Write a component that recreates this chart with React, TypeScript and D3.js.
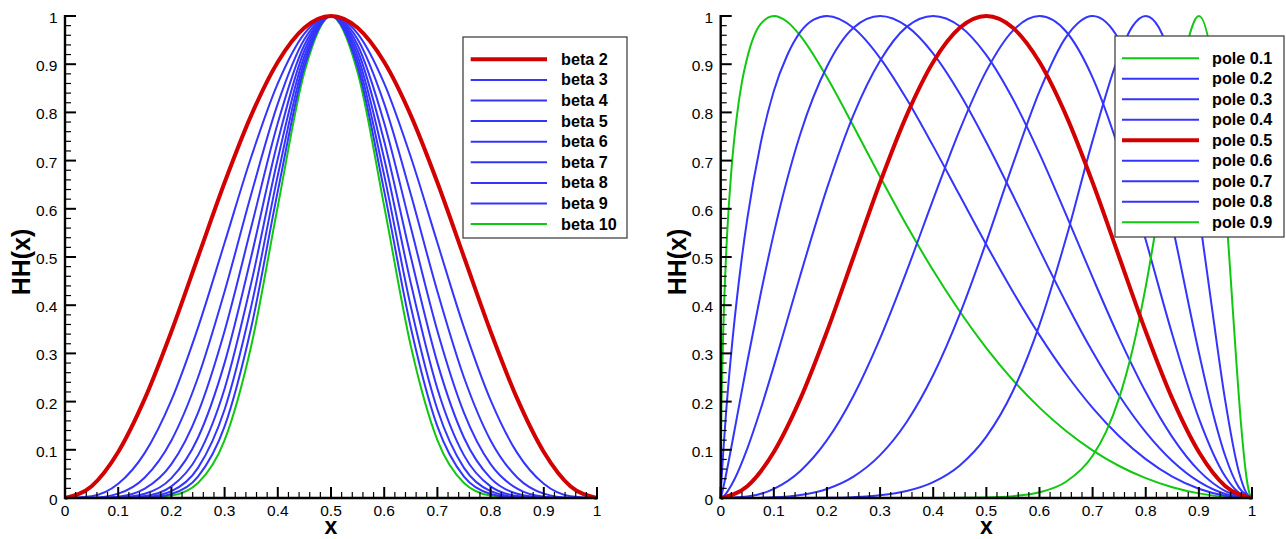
import React from "react";
import * as d3 from "d3";

// ---------------- data ----------------
const tickLabels = ["0", "0.1", "0.2", "0.3", "0.4", "0.5", "0.6", "0.7", "0.8", "0.9", "1"];

const betaNames = ["beta 2", "beta 3", "beta 4", "beta 5", "beta 6", "beta 7", "beta 8", "beta 9", "beta 10"];
const betaX = [0, 0.05, 0.1, 0.15, 0.2, 0.25, 0.3, 0.35, 0.4, 0.45, 0.5, 0.55, 0.6, 0.65, 0.7, 0.75, 0.8, 0.85, 0.9, 0.95, 1];
const beta2 = [0, 0.0245, 0.0955, 0.2061, 0.3455, 0.5, 0.6545, 0.7939, 0.9045, 0.9755, 1, 0.9755, 0.9045, 0.7939, 0.6545, 0.5, 0.3455, 0.2061, 0.0955, 0.0245, 0];
const beta3 = [0, 0.0038, 0.0295, 0.0936, 0.2031, 0.3536, 0.5295, 0.7074, 0.8602, 0.9635, 1, 0.9635, 0.8602, 0.7074, 0.5295, 0.3536, 0.2031, 0.0936, 0.0295, 0.0038, 0];
const beta4 = [0, 0.0006, 0.0091, 0.0425, 0.1194, 0.25, 0.4284, 0.6303, 0.8181, 0.9517, 1, 0.9517, 0.8181, 0.6303, 0.4284, 0.25, 0.1194, 0.0425, 0.0091, 0.0006, 0];
const beta5 = [0, 0.0001, 0.0028, 0.0193, 0.0702, 0.1768, 0.3466, 0.5616, 0.7781, 0.9399, 1, 0.9399, 0.7781, 0.5616, 0.3466, 0.1768, 0.0702, 0.0193, 0.0028, 0.0001, 0];
const beta6 = [0, 0, 0.0009, 0.0088, 0.0412, 0.125, 0.2804, 0.5004, 0.74, 0.9284, 1, 0.9284, 0.74, 0.5004, 0.2804, 0.125, 0.0412, 0.0088, 0.0009, 0, 0];
const beta7 = [0, 0, 0.0003, 0.004, 0.0242, 0.0884, 0.2268, 0.4458, 0.7038, 0.9169, 1, 0.9169, 0.7038, 0.4458, 0.2268, 0.0884, 0.0242, 0.004, 0.0003, 0, 0];
const beta8 = [0, 0, 0.0001, 0.0018, 0.0142, 0.0625, 0.1835, 0.3972, 0.6693, 0.9056, 1, 0.9056, 0.6693, 0.3972, 0.1835, 0.0625, 0.0142, 0.0018, 0.0001, 0, 0];
const beta9 = [0, 0, 0, 0.0008, 0.0084, 0.0442, 0.1485, 0.3539, 0.6366, 0.8945, 1, 0.8945, 0.6366, 0.3539, 0.1485, 0.0442, 0.0084, 0.0008, 0, 0, 0];
const beta10 = [0, 0, 0, 0.0004, 0.0049, 0.0313, 0.1201, 0.3154, 0.6054, 0.8835, 1, 0.8835, 0.6054, 0.3154, 0.1201, 0.0313, 0.0049, 0.0004, 0, 0, 0];

const poleNames = ["pole 0.1", "pole 0.2", "pole 0.3", "pole 0.4", "pole 0.5", "pole 0.6", "pole 0.7", "pole 0.8", "pole 0.9"];
const pole01X = [0, 0.001, 0.0025, 0.005, 0.01, 0.02, 0.03, 0.04, 0.05, 0.075, 0.1, 0.125, 0.15, 0.2, 0.25, 0.3, 0.35, 0.4, 0.45, 0.5, 0.55, 0.6, 0.65, 0.7, 0.75, 0.8, 0.85, 0.9, 0.95, 1];
const pole01Y = [0, 0.1465, 0.2447, 0.3542, 0.5, 0.6782, 0.7888, 0.8633, 0.9136, 0.9831, 1, 0.9881, 0.959, 0.8729, 0.7711, 0.6665, 0.5657, 0.4719, 0.3869, 0.3111, 0.2447, 0.1875, 0.139, 0.0989, 0.0664, 0.0411, 0.0223, 0.0096, 0.0023, 0];
const pole02X = [0, 0.001, 0.0025, 0.005, 0.01, 0.02, 0.03, 0.04, 0.05, 0.075, 0.1, 0.125, 0.15, 0.175, 0.2, 0.25, 0.3, 0.35, 0.4, 0.45, 0.5, 0.55, 0.6, 0.65, 0.7, 0.75, 0.8, 0.85, 0.9, 0.95, 1];
const pole02Y = [0, 0.0255, 0.0556, 0.0994, 0.1755, 0.3028, 0.409, 0.5, 0.5789, 0.7346, 0.8445, 0.918, 0.9669, 0.9923, 1, 0.9751, 0.9128, 0.8277, 0.73, 0.6275, 0.5255, 0.428, 0.338, 0.2573, 0.1871, 0.1282, 0.0806, 0.0444, 0.0193, 0.0047, 0];
const pole03X = [0, 0.001, 0.005, 0.01, 0.02, 0.03, 0.05, 0.075, 0.1, 0.125, 0.15, 0.2, 0.25, 0.3, 0.35, 0.4, 0.45, 0.5, 0.55, 0.6, 0.65, 0.7, 0.75, 0.8, 0.85, 0.9, 0.95, 1];
const pole03Y = [0, 0.0035, 0.022, 0.0483, 0.1052, 0.1642, 0.2821, 0.4221, 0.549, 0.6606, 0.7558, 0.8953, 0.9757, 1, 0.9789, 0.9221, 0.8389, 0.7382, 0.6281, 0.5152, 0.4052, 0.3032, 0.2128, 0.1367, 0.0767, 0.0338, 0.0083, 0];
const pole04X = [0, 0.005, 0.01, 0.025, 0.05, 0.075, 0.1, 0.125, 0.15, 0.2, 0.25, 0.3, 0.35, 0.4, 0.45, 0.5, 0.55, 0.6, 0.65, 0.7, 0.75, 0.8, 0.85, 0.9, 0.95, 1];
const pole04Y = [0, 0.0033, 0.0093, 0.0367, 0.1025, 0.1836, 0.2736, 0.3678, 0.4626, 0.6424, 0.7949, 0.9071, 0.9774, 1, 0.9787, 0.9189, 0.8278, 0.7144, 0.5878, 0.4576, 0.3323, 0.2198, 0.1264, 0.0568, 0.0142, 0];
const pole05X = [0, 0.05, 0.1, 0.15, 0.2, 0.25, 0.3, 0.35, 0.4, 0.45, 0.5, 0.55, 0.6, 0.65, 0.7, 0.75, 0.8, 0.85, 0.9, 0.95, 1];
const pole05Y = [0, 0.0245, 0.0955, 0.2061, 0.3455, 0.5, 0.6545, 0.7939, 0.9045, 0.9755, 1, 0.9755, 0.9045, 0.7939, 0.6545, 0.5, 0.3455, 0.2061, 0.0955, 0.0245, 0];
const pole06X = [0, 0.05, 0.1, 0.15, 0.2, 0.25, 0.3, 0.35, 0.4, 0.45, 0.5, 0.55, 0.6, 0.65, 0.7, 0.75, 0.8, 0.85, 0.9, 0.95, 0.975, 1];
const pole06Y = [0, 0.0029, 0.019, 0.0562, 0.12, 0.2123, 0.3313, 0.4706, 0.6195, 0.7637, 0.8861, 0.9697, 1, 0.9679, 0.8723, 0.7219, 0.5352, 0.3392, 0.1652, 0.044, 0.0112, 0];
const pole07X = [0, 0.05, 0.1, 0.15, 0.2, 0.25, 0.3, 0.35, 0.4, 0.45, 0.5, 0.55, 0.6, 0.65, 0.7, 0.75, 0.8, 0.85, 0.9, 0.925, 0.95, 0.975, 1];
const pole07Y = [0, 0.0001, 0.0013, 0.0062, 0.0188, 0.0444, 0.0889, 0.1577, 0.2551, 0.3814, 0.5314, 0.6926, 0.8436, 0.9563, 1, 0.9501, 0.7986, 0.5652, 0.3019, 0.1827, 0.0862, 0.0226, 0];
const pole08X = [0, 0.1, 0.15, 0.2, 0.25, 0.3, 0.35, 0.4, 0.45, 0.5, 0.55, 0.6, 0.65, 0.7, 0.75, 0.775, 0.8, 0.825, 0.85, 0.875, 0.9, 0.925, 0.95, 0.975, 0.99, 1];
const pole08Y = [0, 0, 0.0001, 0.0004, 0.0018, 0.0056, 0.0144, 0.0329, 0.0676, 0.1273, 0.2219, 0.3593, 0.5387, 0.7415, 0.9194, 0.9784, 1, 0.9754, 0.8978, 0.7667, 0.591, 0.3912, 0.1993, 0.0554, 0.0093, 0];
const pole09X = [0, 0.3, 0.4, 0.5, 0.55, 0.6, 0.65, 0.7, 0.725, 0.75, 0.775, 0.8, 0.825, 0.85, 0.875, 0.9, 0.925, 0.95, 0.96, 0.97, 0.98, 0.99, 0.995, 1];
const pole09Y = [0, 0, 0.0001, 0.0011, 0.0038, 0.0118, 0.0337, 0.0877, 0.1367, 0.2078, 0.3071, 0.4385, 0.6001, 0.7766, 0.9297, 1, 0.9068, 0.6134, 0.4546, 0.2916, 0.1452, 0.0399, 0.0104, 0];

// ---------------- styles / layout ----------------
const RED = "#d20000";
const BLUE = "#3434ff";
const GREEN = "#10c810";
const FONT = "'Liberation Sans', Arial, Helvetica, sans-serif";
const PLOT_TOP = 16;
const PLOT_BOTTOM = 498;

type Series = { name: string; xs: number[]; ys: number[]; color: string; width: number };

const leftSeries: Series[] = [beta2, beta3, beta4, beta5, beta6, beta7, beta8, beta9, beta10].map((ys, i) => ({
  name: betaNames[i],
  xs: betaX,
  ys,
  color: i === 0 ? RED : i === 8 ? GREEN : BLUE,
  width: i === 0 ? 4 : 2,
}));

const poleXs = [pole01X, pole02X, pole03X, pole04X, pole05X, pole06X, pole07X, pole08X, pole09X];
const poleYs = [pole01Y, pole02Y, pole03Y, pole04Y, pole05Y, pole06Y, pole07Y, pole08Y, pole09Y];
const rightSeries: Series[] = poleYs.map((ys, i) => ({
  name: poleNames[i],
  xs: poleXs[i],
  ys,
  color: i === 4 ? RED : i === 0 || i === 8 ? GREEN : BLUE,
  width: i === 4 ? 4 : 2,
}));

type LegendLayout = { x: number; y: number; w: number; h: number; row0: number; step: number; l0: number; l1: number; tx: number };

function Panel({ left, right, series, legend, drawOrder }: { left: number; right: number; series: Series[]; legend: LegendLayout; drawOrder: number[] }) {
  const x = d3.scaleLinear().domain([0, 1]).range([left, right]);
  const y = d3.scaleLinear().domain([0, 1]).range([PLOT_BOTTOM, PLOT_TOP]);
  const majors = x.ticks(10);
  const minors = x.ticks(50).filter((v) => !majors.some((m) => Math.abs(m - v) < 1e-9));

  return (
    <g>
      {drawOrder.map((i) => {
        const s = series[i];
        const line = d3
          .line<number>()
          .x((_, k) => x(s.xs[k]))
          .y((d) => y(d))
          .curve(d3.curveMonotoneX);
        return <path key={s.name} d={line(s.ys) || ""} fill="none" stroke={s.color} strokeWidth={s.width} strokeLinejoin="round" />;
      })}

      {/* x axis */}
      <line x1={x(0) - 1} x2={x(1) + 1} y1={y(0)} y2={y(0)} stroke="#000" strokeWidth={2.4} />
      {minors.map((v) => (
        <line key={"xm" + v} x1={x(v)} x2={x(v)} y1={y(0)} y2={y(0) - 6} stroke="#000" strokeWidth={1.2} />
      ))}
      {majors.map((v, i) => (
        <g key={"xM" + v}>
          <line x1={x(v)} x2={x(v)} y1={y(0)} y2={y(0) - 11} stroke="#000" strokeWidth={2} />
          <text x={x(v)} y={515.5} textAnchor="middle" fontFamily={FONT} fontSize={15.5} fill="#000">
            {tickLabels[i]}
          </text>
        </g>
      ))}

      {/* y axis */}
      <line x1={x(0)} x2={x(0)} y1={y(0) + 1} y2={y(1) - 1} stroke="#000" strokeWidth={2.4} />
      {minors.map((v) => (
        <line key={"ym" + v} x1={x(0)} x2={x(0) + 6} y1={y(v)} y2={y(v)} stroke="#000" strokeWidth={1.2} />
      ))}
      {majors.map((v, i) => (
        <g key={"yM" + v}>
          <line x1={x(0)} x2={x(0) + 11} y1={y(v)} y2={y(v)} stroke="#000" strokeWidth={2} />
          <text x={x(0) - 7.5} y={y(v) + 7} textAnchor="end" fontFamily={FONT} fontSize={15.5} fill="#000">
            {tickLabels[i]}
          </text>
        </g>
      ))}

      {/* axis titles */}
      <text x={(x(0) + x(1)) / 2} y={533.5} textAnchor="middle" fontFamily={FONT} fontWeight="bold" fontSize={23} fill="#000">
        x
      </text>
      <text
        transform={`translate(${x(0) - 35},262) rotate(-90)`}
        textAnchor="middle"
        fontFamily={FONT}
        fontWeight="bold"
        fontSize={25}
        fill="#000"
      >
        HH(x)
      </text>

      {/* legend */}
      <rect x={legend.x} y={legend.y} width={legend.w} height={legend.h} fill="#fff" stroke="#444" strokeWidth={1.3} />
      {series.map((s, i) => {
        const ry = legend.row0 + i * legend.step;
        return (
          <g key={"lg" + s.name}>
            <line x1={legend.l0} x2={legend.l1} y1={ry} y2={ry} stroke={s.color} strokeWidth={s.width} />
            <text x={legend.tx} y={ry + 5.5} fontFamily={FONT} fontWeight="bold" fontSize={16.2} fill="#000">
              {s.name}
            </text>
          </g>
        );
      })}
    </g>
  );
}

export default function App() {
  return (
    <svg
      width={1286}
      height={539}
      viewBox="0 0 1286 539"
      style={{ position: "absolute", left: 0, top: 0, background: "#fff" }}
    >
      <rect x={0} y={0} width={1286} height={539} fill="#fff" />
      <Panel
        left={65}
        right={597}
        series={leftSeries}
        drawOrder={[8, 7, 6, 5, 4, 3, 2, 1, 0]}
        legend={{ x: 463, y: 37, w: 164, h: 201, row0: 59.3, step: 20.6, l0: 470.7, l1: 547, tx: 561 }}
      />
      <Panel
        left={720.7}
        right={1252}
        series={rightSeries}
        drawOrder={[0, 1, 2, 3, 5, 6, 7, 8, 4]}
        legend={{ x: 1115, y: 36, w: 169, h: 201, row0: 58.3, step: 20.5, l0: 1122, l1: 1199, tx: 1212 }}
      />
    </svg>
  );
}
